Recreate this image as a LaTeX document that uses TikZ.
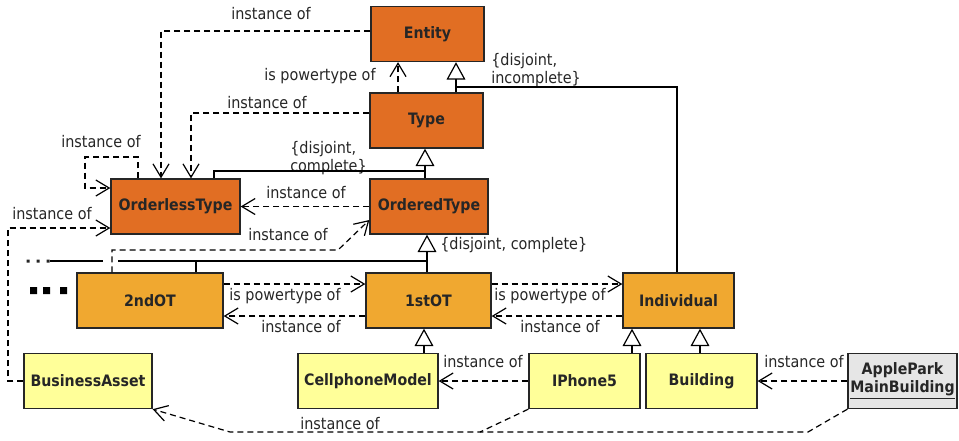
\documentclass[tikz,border=0pt]{standalone}
\usepackage{fontspec}
\setmainfont{DejaVu Sans}
\newfontfamily\condfont{DejaVu Sans Condensed}
\usetikzlibrary{arrows.meta}
\definecolor{darkorange}{RGB}{225,110,35}
\definecolor{lightorange}{RGB}{240,168,48}
\definecolor{paleyellow}{RGB}{255,255,153}
\definecolor{instgray}{RGB}{230,230,230}
\begin{document}
\begin{tikzpicture}[x=0.75pt,y=-0.75pt,
    cls/.style={draw=black!85,line width=1pt,minimum height=41.25pt,inner sep=1pt,
      font=\condfont\fontsize{11.8}{13}\selectfont\bfseries,text=black!85},
    lbl/.style={font=\condfont\fontsize{12}{13}\selectfont,inner sep=0pt,text=black!85},
    dep/.style={dash pattern=on 4.5pt off 3pt,line width=0.9pt,
      -{Straight Barb[length=10pt,width=12pt]}},
    depline/.style={dash pattern=on 4.5pt off 3pt,line width=0.9pt},
    gen/.style={line width=0.9pt,-{Triangle[open,length=13pt,width=14pt]}},
    genline/.style={line width=0.9pt}]
  \useasboundingbox (0,0) rectangle (959,440);
  % classes
  \node[cls,fill=darkorange,minimum width=84.75pt] (ent) at (427.5,34) {Entity};
  \node[cls,fill=darkorange,minimum width=84.75pt] (typ) at (426.5,120.5) {Type};
  \node[cls,fill=darkorange,minimum width=88.5pt] (otype) at (429,206.5) {OrderedType};
  \node[cls,fill=darkorange,minimum width=96.75pt] (ltype) at (175.5,206.5) {OrderlessType};
  \node[cls,fill=lightorange,minimum width=109.5pt] (ot2) at (150,300.5) {2ndOT};
  \node[cls,fill=lightorange,minimum width=93.75pt] (ot1) at (428.5,300.5) {1stOT};
  \node[cls,fill=lightorange,minimum width=83.25pt] (ind) at (678.5,300.5) {Individual};
  \node[cls,fill=paleyellow,minimum width=96pt] (ba) at (88,381) {BusinessAsset};
  \node[cls,fill=paleyellow,minimum width=105pt] (cell) at (368,381) {CellphoneModel};
  \node[cls,fill=paleyellow,minimum width=83.25pt] (iph) at (584.5,381) {IPhone5};
  \node[cls,fill=paleyellow,minimum width=83.25pt] (bld) at (701.5,381) {Building};
  \node[cls,fill=instgray,minimum width=81.75pt,align=center,
    font=\condfont\fontsize{11.8}{13.5}\selectfont\bfseries] (apk) at (902.5,381) {ApplePark\\\underline{MainBuilding}};
  % labels
  \node[lbl] (l1) at (271,14) {instance of};
  \node[lbl] (l2) at (320,76) {is powertype of};
  \node[lbl] (l3) at (267,103) {instance of};
  \node[lbl] (l4) at (101,142) {instance of};
  \node[lbl,anchor=west,align=left] (l5) at (290,158) {\{disjoint,\\complete\}};
  \node[lbl,anchor=west,align=left] (l6) at (491,70) {\{disjoint,\\incomplete\}};
  \node[lbl] (l7) at (306,193) {instance of};
  \node[lbl] (l8) at (52,214) {instance of};
  \node[lbl] (l9) at (288,235) {instance of};
  \node[lbl,anchor=west] (l10) at (440,245) {\{disjoint, complete\}};
  \node[lbl] (l11) at (285,296) {is powertype of};
  \node[lbl] (l12) at (301,327) {instance of};
  \node[lbl] (l13) at (550,296) {is powertype of};
  \node[lbl] (l14) at (560,327) {instance of};
  \node[lbl] (l15) at (483,362) {instance of};
  \node[lbl] (l16) at (804,362) {instance of};
  \node[lbl] (l17) at (340,424) {instance of};
  % joints of the generalization sets
  \coordinate (gs1) at (456,87);
  \coordinate (gs2) at (425,171);
  \coordinate (gs3) at (427,261);
  \coordinate (gl) at (50,261);
  \coordinate (gap1) at (103,261);
  \coordinate (gap2) at (118,261);
  % generalizations
  \draw[gen] (typ.north -| gs1) -- (ent.south -| gs1);
  \draw[genline] (ind.north -| 677,0) |- (gs1);
  \draw[gen] (otype.north -| gs2) -- (typ.south -| gs2);
  \draw[genline] (ltype.north -| 214,0) |- (gs2);
  \draw[gen] (ot1.north -| gs3) -- (otype.south -| gs3);
  \draw[genline] (ot2.north -| 196,0) -- (196,261);
  \draw[genline] (gl) -- (gap1);
  \draw[genline] (gap2) -- (gs3);
  \draw[gen] (cell.north -| 424,0) -- (ot1.south -| 424,0);
  \draw[gen] (iph.north -| 632,0) -- (ind.south -| 632,0);
  \draw[gen] (bld.north -| 700,0) -- (ind.south -| 700,0);
  % instance of / is powertype of
  \draw[dep] (ent.west |- 0,31) -| (ltype.north -| 161,0);
  \draw[dep] (typ.west |- 0,113) -| (ltype.north -| 191,0);
  \draw[dep] (typ.north -| 398,0) -- (ent.south -| 398,0);
  \draw[dep] (ltype.north -| 138,0) |- (85,157) |- (ltype.west |- 0,188);
  \draw[dep] (otype.west) -- (ltype.east);
  \draw[dep] (ba.west) -| (8,228) -- (ltype.west |- 0,228);
  \draw[dep] (ot2.north -| 112,0) |- (338,250) -- (otype.west |- 0,220);
  \draw[dep] (ot2.east |- 0,284) -- (ot1.west |- 0,284);
  \draw[dep] (ot1.west |- 0,316) -- (ot2.east |- 0,316);
  \draw[dep] (ot1.east |- 0,284) -- (ind.west |- 0,284);
  \draw[dep] (ind.west |- 0,316) -- (ot1.east |- 0,316);
  \draw[dep] (iph.west) -- (cell.east);
  \draw[dep] (apk.west) -- (bld.east);
  \draw[depline] (iph.south west) -- (480,432);
  \draw[dep] (apk.south west) -- (808,432) -- (230,432) -- (ba.south east);
  % continuation marks
  \fill[black!85] (26.5,259.5) rectangle (29.5,262.5) (36.5,259.5) rectangle (39.5,262.5)
    (46.5,259.5) rectangle (49.5,262.5);
  \fill (30,287) rectangle (37,294) (43,287) rectangle (50,294) (60,287) rectangle (67,294);
\end{tikzpicture}
\end{document}
